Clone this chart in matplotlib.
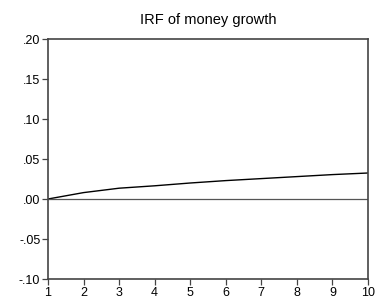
import matplotlib
matplotlib.use("Agg")
import matplotlib.pyplot as plt

periods = [1, 2, 3, 4, 5, 6, 7, 8, 9, 10]
irf = [0.000, 0.008, 0.0135, 0.0165, 0.0200, 0.0230, 0.0255, 0.0280, 0.0305, 0.0325]
yticks = [-0.10, -0.05, 0.00, 0.05, 0.10, 0.15, 0.20]
ylabels = ["-.10", "-.05", ".00", ".05", ".10", ".15", ".20"]
title = "IRF of money growth"

plt.rcParams['font.family'] = ['Liberation Sans', 'DejaVu Sans']
fig = plt.figure(figsize=(3.78, 3.03), dpi=100)
ax = fig.add_axes([48/378, 1-279/303, 320/378, 240/303])
ax.plot(periods, irf, color='black', lw=1.0)
ax.axhline(0, color='#555555', lw=0.9)
ax.set_xlim(1, 10)
ax.set_ylim(-0.10, 0.20)
ax.set_xticks(periods)
ax.set_xticklabels([str(p) for p in periods])
ax.set_yticks(yticks)
ax.set_yticklabels(ylabels)
ax.tick_params(direction='out', length=4, width=0.9, color='#444444', labelsize=9, pad=1.5)
for s in ax.spines.values():
    s.set_color('#444444')
    s.set_linewidth(1.2)
ax.set_title(title, fontsize=10.5, pad=11)
fig.savefig("out.png", dpi=100)
